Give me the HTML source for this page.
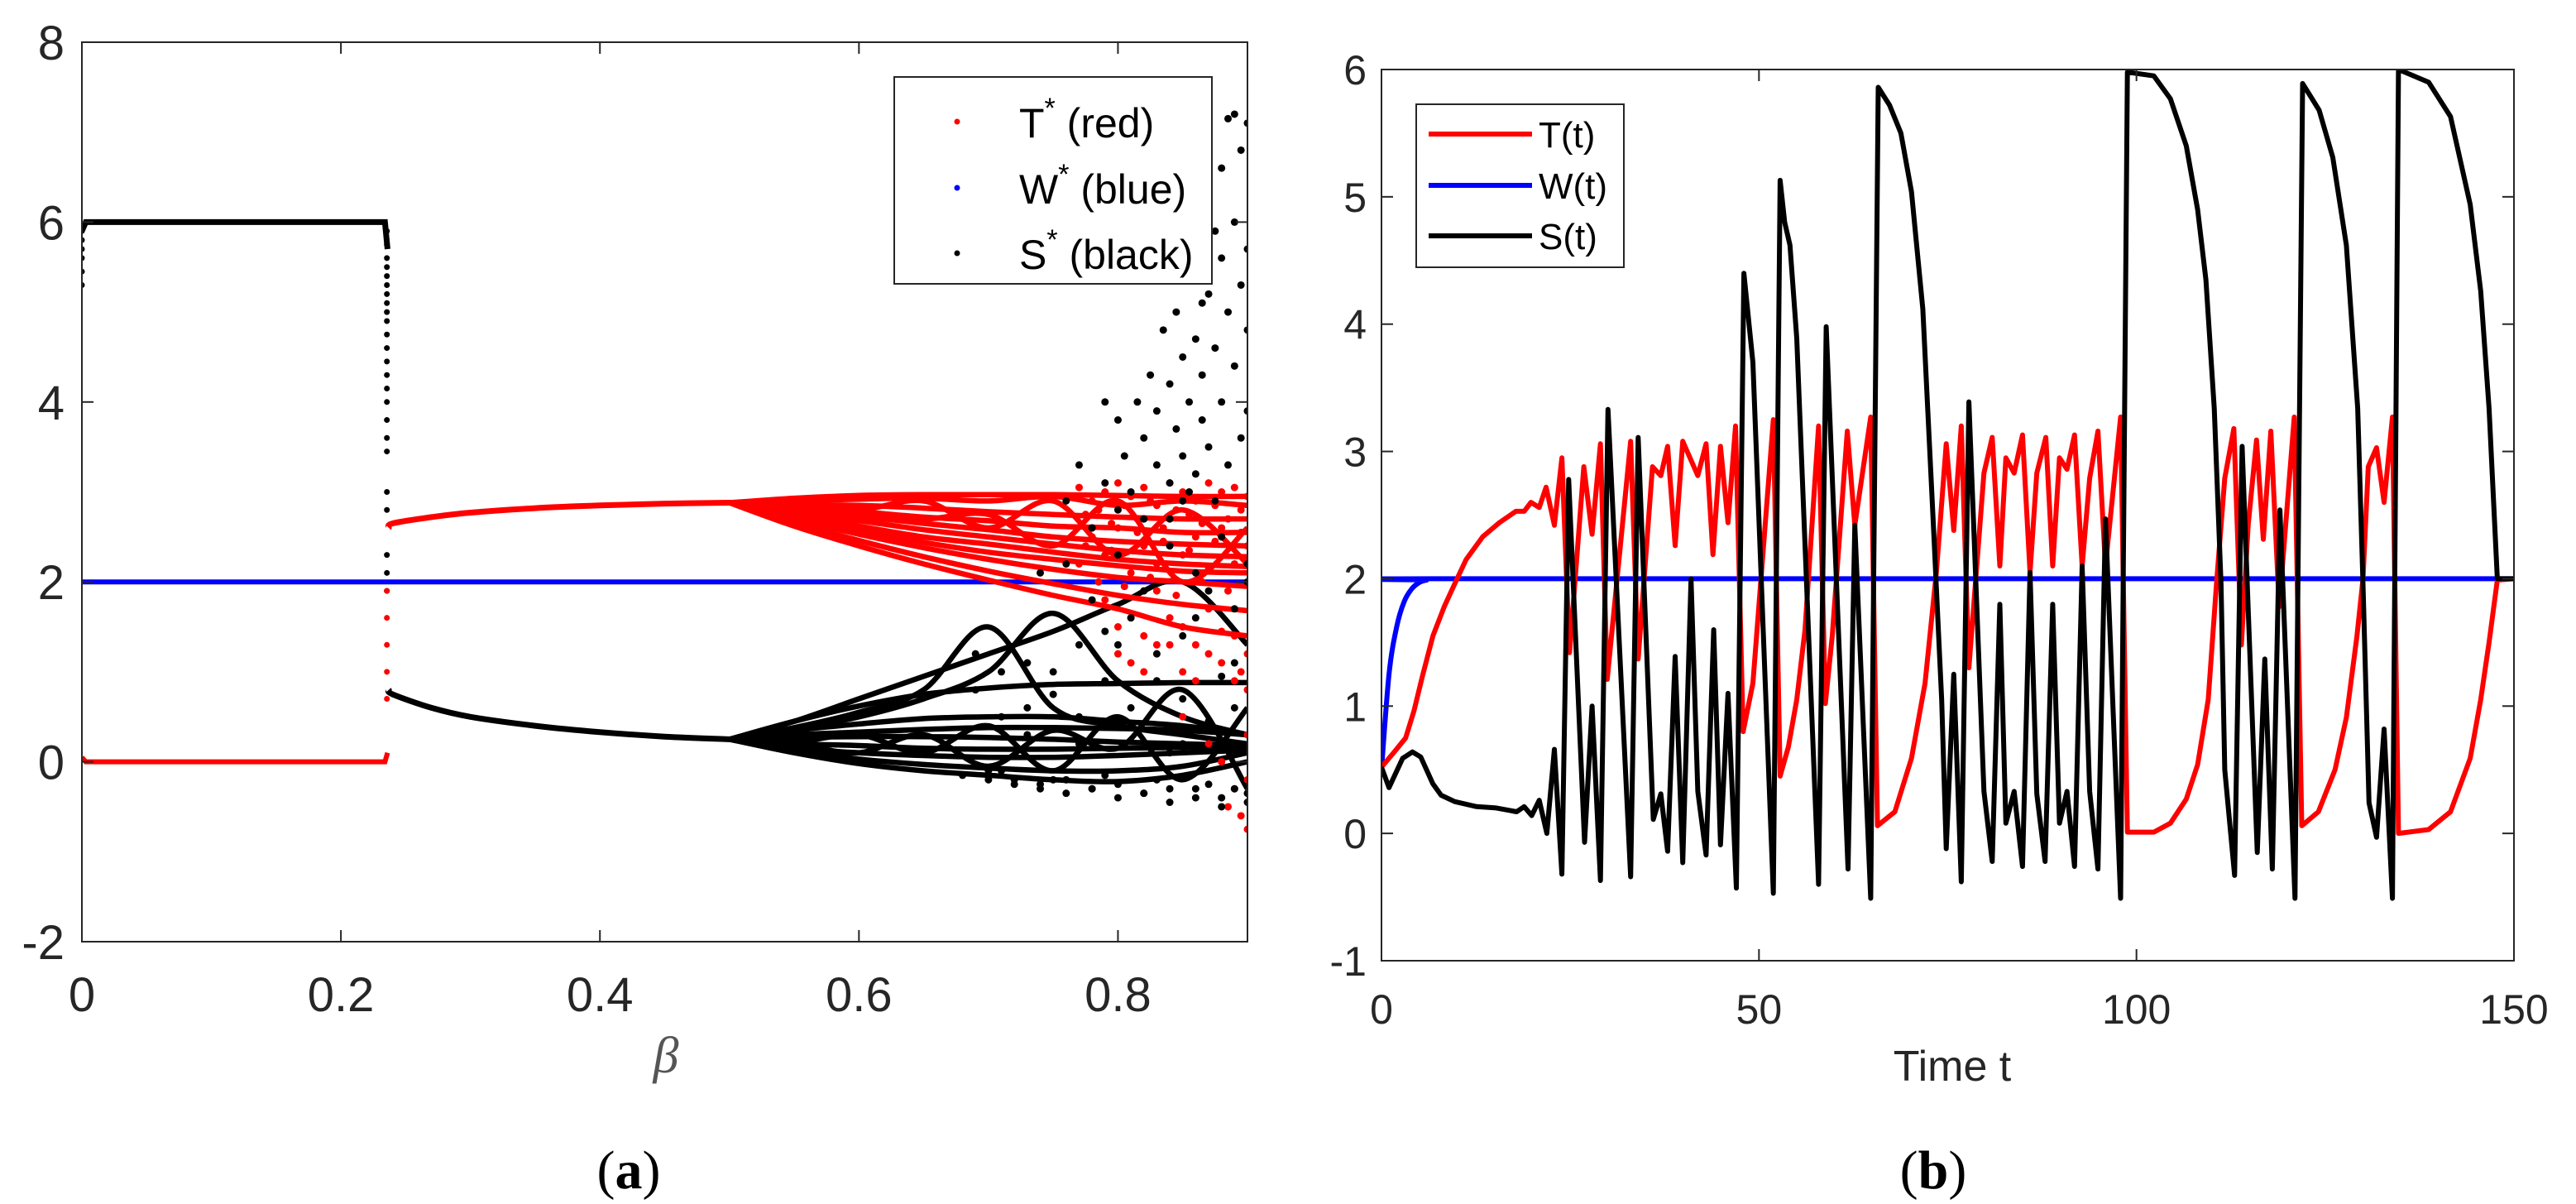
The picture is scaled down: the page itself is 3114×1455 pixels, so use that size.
<!DOCTYPE html>
<html><head><meta charset="utf-8"><style>
html,body{margin:0;padding:0;background:#fff;}
svg{display:block;font-family:"Liberation Sans",sans-serif;}
</style></head><body>
<svg id="fig" width="3114" height="1455" viewBox="0 0 3114 1455" xmlns="http://www.w3.org/2000/svg">
<defs>
<clipPath id="clipL"><rect x="99" y="51" width="1409" height="1087"/></clipPath>
<clipPath id="clipR"><rect x="1670" y="84" width="1369" height="1077"/></clipPath>
</defs>
<rect width="3114" height="1455" fill="#fff"/>
<g id="left">
  <g id="leftData" clip-path="url(#clipL)"></g>
  <rect x="99" y="51" width="1409" height="1087" fill="none" stroke="#262626" stroke-width="2"/>
  <g id="leftTicks"></g>
  <text x="805" y="1296" font-family="Liberation Serif,serif" font-style="italic" font-size="62" fill="#555" text-anchor="middle">β</text>
  <text x="760" y="1436" font-family="Liberation Serif,serif" font-size="66" text-anchor="middle" fill="#000">(<tspan font-weight="bold">a</tspan>)</text>
  <g>
    <rect x="1081" y="93" width="384" height="250" fill="#fff" stroke="#262626" stroke-width="2"/>
    <circle cx="1157" cy="147" r="3.5" fill="#ff0000"/>
    <circle cx="1157" cy="227" r="3.5" fill="#0000ff"/>
    <circle cx="1157" cy="306" r="3.5" fill="#000"/>
    <text x="1232" y="166" font-size="50" fill="#000">T<tspan dy="-24" font-size="34">*</tspan><tspan dy="24"> (red)</tspan></text>
    <text x="1232" y="246" font-size="50" fill="#000">W<tspan dy="-24" font-size="34">*</tspan><tspan dy="24"> (blue)</tspan></text>
    <text x="1232" y="325" font-size="50" fill="#000">S<tspan dy="-24" font-size="34">*</tspan><tspan dy="24"> (black)</tspan></text>
  </g>
</g>
<g id="right">
  <g id="rightData" clip-path="url(#clipR)"></g>
  <rect x="1670" y="84" width="1369" height="1077" fill="none" stroke="#262626" stroke-width="2"/>
  <g id="rightTicks"></g>
  <text x="2360" y="1306" font-size="52" fill="#262626" text-anchor="middle">Time t</text>
  <text x="2337" y="1436" font-family="Liberation Serif,serif" font-size="66" text-anchor="middle" fill="#000">(<tspan font-weight="bold">b</tspan>)</text>
  <g>
    <rect x="1712" y="126" width="251" height="197" fill="#fff" stroke="#262626" stroke-width="2"/>
    <line x1="1727" y1="162" x2="1852" y2="162" stroke="#ff0000" stroke-width="6"/>
    <line x1="1727" y1="224" x2="1852" y2="224" stroke="#0000ff" stroke-width="6"/>
    <line x1="1727" y1="285" x2="1852" y2="285" stroke="#000" stroke-width="6"/>
    <text x="1860" y="178" font-size="44" fill="#000">T(t)</text>
    <text x="1860" y="240" font-size="44" fill="#000">W(t)</text>
    <text x="1860" y="301" font-size="44" fill="#000">S(t)</text>
  </g>
</g>
</svg>
<script>
// ---------- LEFT CHART DATA ----------
const lxTicks = [0, 0.2, 0.4, 0.6, 0.8];
const lxTickLabels = ["0", "0.2", "0.4", "0.6", "0.8"];
const lyTicks = [-2, 0, 2, 4, 6, 8];
const lyTickLabels = ["-2", "0", "2", "4", "6", "8"];
const wStar = 2;
const sPlateau = 6;
const betaCrit = 0.234;
const sStartDrop = [5.3, 5.45, 5.6, 5.7, 5.8, 5.9, 5.95];
const sDrop = [5.9, 5.75, 5.6, 5.5, 5.4, 5.3, 5.2, 5.1, 5.0, 4.9, 4.75, 4.6, 4.45, 4.3, 4.15, 4.0, 3.8, 3.6, 3.45, 3.0, 2.8, 2.3, 2.1, 1.9];
const tDrop = [1.9, 1.6, 1.3, 1.0, 0.7];
const lineBeta = [0.237, 0.24, 0.27, 0.3, 0.35, 0.4, 0.45, 0.5];
const tBranch = [2.6, 2.65, 2.72, 2.77, 2.82, 2.85, 2.87, 2.88];
const sBranch = [0.8, 0.75, 0.6, 0.5, 0.4, 0.33, 0.28, 0.25];
const fanBeta = [0.5, 0.55, 0.6, 0.65, 0.7, 0.75, 0.8, 0.85, 0.9];
const redFan1 = [2.88,2.93,2.96,2.97,2.97,2.97,2.96,2.95,2.95];
const redFan2 = [2.88,2.9,2.92,2.93,2.9,2.95,2.85,2.9,2.85];
const redFan3 = [2.88,2.86,2.85,2.82,2.78,2.75,2.72,2.7,2.7];
const redFan4 = [2.88,2.82,2.78,2.72,2.68,2.62,2.6,2.55,2.55];
const redFan5 = [2.88,2.8,2.73,2.65,2.58,2.5,2.45,2.42,2.4];
const redFan6 = [2.88,2.77,2.68,2.58,2.5,2.42,2.35,2.3,2.28];
const redFan7 = [2.88,2.74,2.62,2.5,2.42,2.33,2.25,2.2,2.17];
const redFan8 = [2.88,2.72,2.58,2.44,2.33,2.25,2.18,2.12,2.1];
const redFan9 = [2.88,2.7,2.53,2.38,2.25,2.14,2.05,2.0,1.95];
const redFan10 = [2.88,2.66,2.46,2.28,2.12,1.98,1.85,1.75,1.68];
const redFan11 = [2.88,2.62,2.4,2.2,2.02,1.85,1.7,1.5,1.4];
const redFan12 = [2.88,2.85,2.8,2.9,2.6,2.9,2.3,2.8,2.2];
const redFan13 = [2.88,2.84,2.78,2.7,2.75,2.4,2.9,2.0,2.6];
const blackFan1 = [0.25,0.45,0.62,0.75,0.82,0.86,0.87,0.88,0.88];
const blackFan2 = [0.25,0.45,0.7,0.95,1.2,1.45,1.75,2.0,1.3];
const blackFan3 = [0.25,0.38,0.55,0.8,1.5,0.6,0.4,0.3,0.2];
const blackFan4 = [0.25,0.36,0.5,0.7,1.0,1.65,0.9,0.5,0.3];
const blackFan5 = [0.25,0.35,0.42,0.48,0.5,0.5,0.45,0.4,0.3];
const blackFan6 = [0.25,0.3,0.33,0.36,0.38,0.38,0.37,0.35,0.3];
const blackFan7 = [0.25,0.27,0.28,0.28,0.27,0.25,0.22,0.2,0.18];
const blackFan8 = [0.25,0.2,0.18,0.15,0.14,0.14,0.15,0.16,0.17];
const blackFan9 = [0.25,0.15,0.1,0.07,0.05,0.05,0.07,0.1,0.13];
const blackFan10 = [0.25,0.12,0.03,-0.03,-0.07,-0.1,-0.1,-0.05,0.1];
const blackFan11 = [0.25,0.1,-0.02,-0.1,-0.15,-0.2,-0.22,-0.15,0.0];
const blackFan12 = [0.25,0.22,0.3,0.1,0.4,-0.1,0.5,-0.2,0.6];
const blackFan13 = [0.25,0.2,0.1,0.3,-0.05,0.35,0.15,0.8,-0.3];
const blackDotBeta = [0.78,0.79,0.8,0.805,0.81,0.815,0.82,0.82,0.825,0.83,0.83,0.835,0.84,0.84,0.845,0.845,0.85,0.85,0.85,0.855,0.855,0.86,0.86,0.86,0.865,0.865,0.87,0.87,0.87,0.875,0.875,0.88,0.88,0.88,0.885,0.885,0.89,0.89,0.89,0.895,0.895,0.895,0.9,0.9,0.9,0.9,0.885,0.875,0.865,0.855,0.84,0.8,0.77,0.79,
0.7,0.72,0.74,0.76,0.78,0.8,0.82,0.84,0.86,0.88,0.9,0.73,0.75,0.77,0.79,0.81,0.83,0.85,0.87,0.89,0.76,0.78,0.8,0.82,0.84,0.86,0.88,0.9,0.71,0.75,0.79,0.83,0.87,0.89,0.69,0.71,0.73,0.77,0.81,0.85,0.89,
0.68,0.7,0.72,0.74,0.76,0.78,0.8,0.82,0.84,0.86,0.88,0.9,0.69,0.71,0.73,0.75,0.77,0.79,0.81,0.83,0.85,0.87,0.89,0.74,0.78,0.82,0.86,0.9,0.76,0.8,0.84,0.88];
const blackDotVal = [2.6,3.1,2.8,3.4,3.0,4.0,3.6,2.7,4.3,3.3,3.9,4.8,3.1,4.2,3.7,5.0,2.9,4.5,3.4,5.4,4.0,3.2,4.7,5.9,3.8,4.3,5.2,3.5,6.3,4.6,2.9,5.6,4.0,6.6,3.3,5.0,6.0,4.4,7.2,3.6,5.3,6.8,4.8,5.7,3.9,7.1,7.15,5.9,5.1,3.0,2.7,3.8,3.3,4.0,
-0.2,-0.25,-0.3,-0.35,-0.3,-0.4,-0.35,-0.45,-0.4,-0.5,-0.45,0.6,1.0,1.3,0.9,1.6,1.2,0.7,1.9,1.1,2.2,1.8,2.3,1.9,2.4,2.1,2.5,2.2,-0.1,-0.2,-0.15,-0.2,-0.25,-0.3,1.2,1.0,0.3,0.5,0.4,0.2,0.6,
-0.15,-0.1,-0.2,-0.25,-0.2,-0.3,-0.25,-0.35,-0.3,-0.3,-0.4,-0.35,0.8,0.5,1.1,0.75,0.2,1.45,0.6,0.9,1.4,0.45,1.7,2.1,2.6,2.7,1.6,2.0,2.9,1.3,0.1,0.95];
const redDotBeta = [0.77,0.78,0.79,0.8,0.81,0.82,0.83,0.84,0.85,0.86,0.87,0.88,0.89,0.9,0.78,0.8,0.82,0.84,0.86,0.88,0.9,0.79,0.81,0.83,0.85,0.87,0.89,0.8,0.82,0.84,0.86,0.88,0.9,0.85,0.87,0.88,0.89,0.895,0.9,0.885,0.9,0.9,0.895,0.77,0.79,0.81,0.83,0.85,0.87,0.89,
0.775,0.785,0.795,0.805,0.815,0.825,0.835,0.845,0.855,0.865,0.875,0.885,0.895,0.775,0.795,0.815,0.835,0.855,0.875,0.895,0.785,0.805,0.825,0.845,0.865,0.885,0.8,0.82,0.84,0.86,0.88,0.9,0.81,0.83,0.85,0.87,0.89];
const redDotVal = [3.05,2.9,3.0,3.1,2.95,3.05,2.85,3.1,3.0,2.9,3.1,3.0,3.05,2.95,2.5,2.6,2.4,2.7,2.5,2.6,2.4,1.8,1.6,1.9,1.5,1.7,1.4,1.2,1.0,1.3,0.9,1.1,0.8,0.5,0.2,0.0,-0.3,-0.6,-0.75,-0.5,-0.2,0.3,1.0,2.2,2.3,2.1,2.2,2.3,2.15,2.2,
2.75,2.8,2.65,2.85,2.7,2.9,2.6,2.8,2.75,2.65,2.85,2.7,2.8,2.4,2.35,2.55,2.45,2.35,2.45,2.55,2.0,1.95,2.05,1.85,2.0,1.9,1.5,1.4,1.6,1.3,1.45,1.2,1.1,1.3,1.0,1.2,0.9];

// ---------- RIGHT CHART DATA ----------
const rxTicks = [0, 50, 100, 150];
const rxTickLabels = ["0", "50", "100", "150"];
const ryTicks = [-1, 0, 1, 2, 3, 4, 5, 6];
const ryTickLabels = ["-1", "0", "1", "2", "3", "4", "5", "6"];
const timeW = [0, 1, 2, 3, 4, 5, 6, 7, 150];
const valW = [0.5, 1.25, 1.62, 1.82, 1.92, 1.97, 1.99, 2.0, 2.0];
const timeT = [0,1.7,3.2,4.3,5.4,6.8,8.3,9.7,11.2,13.4,15.6,17.8,18.9,19.8,20.9,21.8,22.9,23.9,24.9,26.8,27.9,29,29.9,33,34,35.9,37,37.9,38.9,39.9,41.9,43,43.9,44.9,45.9,46.9,47.9,49.2,51.9,52.8,53.9,55,56.1,57.9,58.8,59.7,61.7,62.7,64.8,65.7,68,70.2,72,73.5,74.8,75.8,76.8,77.8,79.8,80.9,81.9,82.7,83.8,84.9,85.9,86.8,88,88.9,89.8,90.8,91.8,92.8,93.8,94.9,95.9,97.9,98.8,102.3,104.5,106.6,108.1,109.5,110.6,111.7,112.9,113.9,114.8,115.9,116.8,117.8,118.9,120.9,121.9,124.1,126.3,127.8,129.2,130,130.7,131.8,132.8,133.9,134.7,138.7,141.6,144.2,145.6,146.7,147.8,150];
const valT = [0.52,0.64,0.75,0.96,1.23,1.55,1.78,1.96,2.15,2.33,2.44,2.53,2.53,2.6,2.56,2.72,2.42,2.95,1.42,2.88,2.35,3.06,1.21,3.08,1.37,2.88,2.81,3.04,2.26,3.08,2.81,3.06,2.19,3.04,2.44,3.2,0.8,1.18,3.25,0.45,0.68,1.05,1.6,3.2,1.02,1.55,3.16,2.42,3.27,0.06,0.17,0.59,1.18,2.05,3.06,2.38,3.2,1.3,2.83,3.11,2.1,2.95,2.83,3.13,2.05,2.83,3.11,2.1,2.95,2.86,3.13,2.1,2.79,3.16,2.1,3.27,0.01,0.01,0.08,0.27,0.54,1.05,1.96,2.79,3.18,1.48,2.42,3.09,2.31,3.16,1.78,3.27,0.06,0.17,0.5,0.91,1.55,2.0,2.88,3.03,2.6,3.27,0.0,0.03,0.17,0.59,1.05,1.5,1.99,2.0];
const timeS = [0,1,2.8,4.1,5.2,6.8,7.9,9.7,12.6,15.2,17,17.9,18.9,19.9,20.9,21.9,22.9,23.9,24.8,26.9,27.9,29,30,33,34,36,37,37.9,38.9,39.9,41,41.9,43,44,44.9,45.9,47,48,49.2,51.9,52.8,53.4,54.1,55,57.9,58.9,61.8,62.7,64.8,65.8,67.3,68.8,70.2,71.7,73.1,74.2,74.8,75.8,76.8,77.8,79.8,80.9,81.9,82.7,83.8,84.9,85.9,86.8,87.9,88.9,89.8,90.8,91.8,92.8,93.8,94.9,95.9,97.9,98.8,102.3,104.5,106.6,108.1,109.2,110.3,111.2,111.7,113,114,116,117,118,119,121,122,124.2,126,127.8,129.3,130,130.8,131.8,132.8,133.9,134.7,138.7,141.6,144.2,145.6,146.7,147.8,150];
const valS = [0.52,0.36,0.59,0.64,0.6,0.39,0.3,0.25,0.21,0.2,0.18,0.17,0.21,0.14,0.26,0.0,0.66,-0.32,2.78,-0.07,1.0,-0.37,3.33,-0.34,3.11,0.11,0.31,-0.14,1.39,-0.23,2.0,0.33,-0.17,1.6,-0.09,1.1,-0.43,4.4,3.7,-0.47,5.13,4.8,4.62,3.89,-0.4,3.98,-0.28,2.42,-0.51,5.86,5.72,5.5,5.04,4.12,2.42,1.05,-0.12,1.25,-0.38,3.39,0.33,-0.22,1.8,0.08,0.33,-0.26,2.05,0.31,-0.22,1.8,0.08,0.33,-0.26,2.1,0.33,-0.28,2.47,-0.51,5.98,5.95,5.77,5.4,4.9,4.35,3.34,1.96,0.5,-0.33,3.04,-0.15,1.37,-0.28,2.54,-0.51,5.89,5.68,5.31,4.62,3.34,1.96,0.24,-0.03,0.82,-0.51,6.0,5.9,5.63,4.94,4.26,3.34,2.0,2.0];

// ---------- SCALES ----------
const xL = b => 99 + b * (1409 / 0.9);
const yL = v => 51 + (8 - v) * (1087 / 10);
const xR = t => 1670 + t * (1369 / 150);
const yR = v => 84 + (6 - v) * (1077 / 7);
const NS = 'http://www.w3.org/2000/svg';
function mk(tag, attrs, parent) {
  const e = document.createElementNS(NS, tag);
  for (const k in attrs) e.setAttribute(k, attrs[k]);
  parent.appendChild(e);
  return e;
}
function polyD(xs, ys) {
  return xs.map((x, i) => (i ? 'L' : 'M') + x.toFixed(1) + ' ' + ys[i].toFixed(1)).join(' ');
}
function smoothD(xs, ys) {
  let d = 'M' + xs[0].toFixed(1) + ' ' + ys[0].toFixed(1);
  for (let i = 0; i < xs.length - 1; i++) {
    const x0 = xs[Math.max(i - 1, 0)], y0 = ys[Math.max(i - 1, 0)];
    const x1 = xs[i], y1 = ys[i], x2 = xs[i + 1], y2 = ys[i + 1];
    const x3 = xs[Math.min(i + 2, xs.length - 1)], y3 = ys[Math.min(i + 2, xs.length - 1)];
    d += ' C' + (x1 + (x2 - x0) / 6).toFixed(1) + ' ' + (y1 + (y2 - y0) / 6).toFixed(1) + ' ' +
      (x2 - (x3 - x1) / 6).toFixed(1) + ' ' + (y2 - (y3 - y1) / 6).toFixed(1) + ' ' + x2.toFixed(1) + ' ' + y2.toFixed(1);
  }
  return d;
}

// ---------- LEFT DRAW ----------
const LD = document.getElementById('leftData');
let p;
p = mk('path', {d: 'M' + xL(0) + ' ' + yL(wStar) + ' L' + xL(0.9) + ' ' + yL(wStar), stroke: '#0000ff', 'stroke-width': 6, fill: 'none'}, LD);


p = mk('path', {d: 'M' + xL(0) + ' ' + yL(0.05) + ' L' + xL(0.003) + ' ' + yL(0) + ' L' + xL(betaCrit) + ' ' + yL(0) + ' L' + xL(0.236) + ' ' + yL(0.1), stroke: '#ff0000', 'stroke-width': 6, fill: 'none'}, LD);


p = mk('path', {d: 'M' + xL(0) + ' ' + yL(5.9) + ' L' + xL(0.003) + ' ' + yL(sPlateau) + ' L' + xL(betaCrit) + ' ' + yL(sPlateau) + ' L' + xL(0.236) + ' ' + yL(5.7), stroke: '#000', 'stroke-width': 7, fill: 'none'}, LD);


sStartDrop.forEach(v => {
  const c = mk('circle', {cx: xL(0), cy: yL(v), r: 3.5, fill: '#000'}, LD);
  
  
});
sDrop.forEach(v => {
  const c = mk('circle', {cx: xL(0.2355), cy: yL(v), r: 3.5, fill: '#000'}, LD);
  
  
});
tDrop.forEach(v => {
  const c = mk('circle', {cx: xL(0.2355), cy: yL(v), r: 3.5, fill: '#ff0000'}, LD);
  
  
});
p = mk('path', {d: smoothD(lineBeta.map(xL), tBranch.map(yL)), stroke: '#ff0000', 'stroke-width': 7, fill: 'none'}, LD);


p = mk('path', {d: smoothD(lineBeta.map(xL), sBranch.map(yL)), stroke: '#000', 'stroke-width': 7, fill: 'none'}, LD);


const redFans = [redFan1, redFan2, redFan3, redFan4, redFan5, redFan6, redFan7, redFan8, redFan9, redFan10, redFan11, redFan12, redFan13];
const blackFans = [blackFan1, blackFan2, blackFan3, blackFan4, blackFan5, blackFan6, blackFan7, blackFan8, blackFan9, blackFan10, blackFan11, blackFan12, blackFan13];
blackFans.forEach(arr => {
  const q = mk('path', {d: smoothD(fanBeta.map(xL), arr.map(yL)), stroke: '#000', 'stroke-width': 6.5, fill: 'none'}, LD);
  
  
});
redFans.forEach(arr => {
  const q = mk('path', {d: smoothD(fanBeta.map(xL), arr.map(yL)), stroke: '#ff0000', 'stroke-width': 6.5, fill: 'none'}, LD);
  
  
});
redDotBeta.forEach((b, i) => {
  const c = mk('circle', {cx: xL(b), cy: yL(redDotVal[i]), r: 4.5, fill: '#ff0000'}, LD);
  
  
});
blackDotBeta.forEach((b, i) => {
  const c = mk('circle', {cx: xL(b), cy: yL(blackDotVal[i]), r: 4.5, fill: '#000'}, LD);
  
  
});
const LT = document.getElementById('leftTicks');
lxTicks.forEach((b, i) => {
  const x = xL(b);
  mk('line', {x1: x, y1: 1138, x2: x, y2: 1124, stroke: '#262626', 'stroke-width': 2}, LT);
  mk('line', {x1: x, y1: 51, x2: x, y2: 65, stroke: '#262626', 'stroke-width': 2}, LT);
  const t = mk('text', {x: x, y: 1222, 'font-size': 58, fill: '#262626', 'text-anchor': 'middle'}, LT);
  
  
  t.textContent = lxTickLabels[i];
});
lyTicks.forEach((v, i) => {
  const y = yL(v);
  mk('line', {x1: 99, y1: y, x2: 113, y2: y, stroke: '#262626', 'stroke-width': 2}, LT);
  mk('line', {x1: 1508, y1: y, x2: 1494, y2: y, stroke: '#262626', 'stroke-width': 2}, LT);
  const t = mk('text', {x: 78, y: y + 21, 'font-size': 58, fill: '#262626', 'text-anchor': 'end'}, LT);
  
  
  t.textContent = lyTickLabels[i];
});

// ---------- RIGHT DRAW ----------
const RD = document.getElementById('rightData');
p = mk('path', {d: smoothD(timeW.map(xR), valW.map(yR)), stroke: '#0000ff', 'stroke-width': 6, fill: 'none'}, RD);


p = mk('path', {d: polyD(timeT.map(xR), valT.map(yR)), stroke: '#ff0000', 'stroke-width': 6, fill: 'none', 'stroke-linejoin': 'round'}, RD);


p = mk('path', {d: polyD(timeS.map(xR), valS.map(yR)), stroke: '#000', 'stroke-width': 6, fill: 'none', 'stroke-linejoin': 'round'}, RD);


const RT = document.getElementById('rightTicks');
rxTicks.forEach((t0, i) => {
  const x = xR(t0);
  mk('line', {x1: x, y1: 1161, x2: x, y2: 1147, stroke: '#262626', 'stroke-width': 2}, RT);
  mk('line', {x1: x, y1: 84, x2: x, y2: 98, stroke: '#262626', 'stroke-width': 2}, RT);
  const t = mk('text', {x: x, y: 1237, 'font-size': 50, fill: '#262626', 'text-anchor': 'middle'}, RT);
  
  
  t.textContent = rxTickLabels[i];
});
ryTicks.forEach((v, i) => {
  const y = yR(v);
  mk('line', {x1: 1670, y1: y, x2: 1684, y2: y, stroke: '#262626', 'stroke-width': 2}, RT);
  mk('line', {x1: 3039, y1: y, x2: 3025, y2: y, stroke: '#262626', 'stroke-width': 2}, RT);
  const t = mk('text', {x: 1652, y: y + 18, 'font-size': 50, fill: '#262626', 'text-anchor': 'end'}, RT);
  
  
  t.textContent = ryTickLabels[i];
});
</script>
</body></html>
